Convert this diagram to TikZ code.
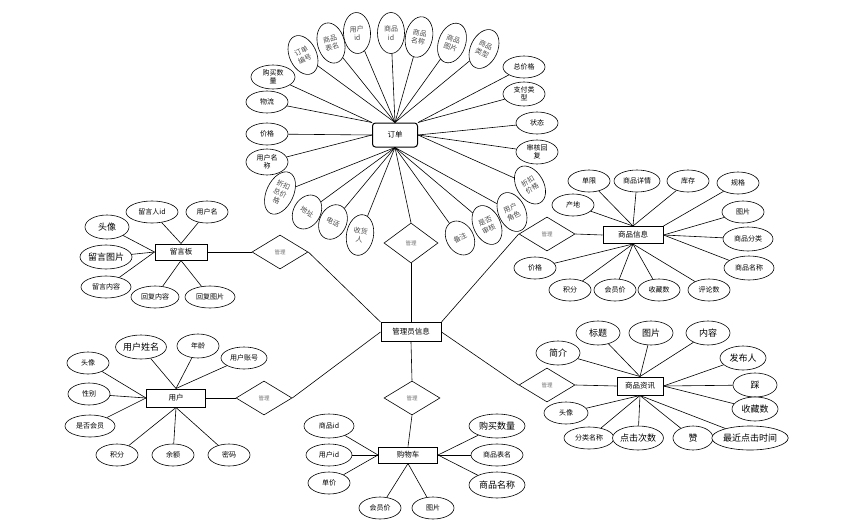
\documentclass[tikz,border=0pt]{standalone}
\usepackage{fontspec}
\usepackage{tikz}
\usetikzlibrary{shapes.geometric}
\newfontfamily\cjk{Noto Sans CJK SC}

\begin{document}
\begin{tikzpicture}[x=1pt, y=-1pt, line width=0.6pt,
    entity/.style={draw, line width=1pt, fill=white, inner sep=1pt, font=\cjk\fontsize{7.5}{9}\selectfont},
    attr/.style={draw, ellipse, fill=white, inner sep=0pt, align=center, minimum width=42pt, minimum height=22pt, font=\cjk\fontsize{7}{8}\selectfont},
    big attr/.style={attr, font=\cjk\fontsize{9}{10}\selectfont},
    tilt attr/.style={attr, minimum width=27pt, minimum height=41pt, text=black!70, rotate=#1, font=\cjk\fontsize{7}{8.5}\selectfont},
    rel/.style={draw, diamond, fill=white, inner sep=0pt, minimum width=56pt, minimum height=34pt, text=black!55, font=\cjk\fontsize{5.5}{6}\selectfont}]

    \path[fill=white, use as bounding box] (0,0) rectangle (849,525);

    % entities
    \node[entity, rounded corners=3pt, minimum width=45pt, minimum height=24pt] (dingdan) at (395,135) {订单};
    \node[entity, minimum width=60pt, minimum height=19pt] (guanli) at (411,332) {管理员信息};
    \node[entity, minimum width=52pt, minimum height=16pt] (liuyan) at (181,252) {留言板};
    \node[entity, minimum width=59pt, minimum height=18pt] (yonghu) at (176,398) {用户};
    \node[entity, minimum width=59pt, minimum height=16pt] (gouwuche) at (408,455) {购物车};
    \node[entity, minimum width=60pt, minimum height=17pt] (shangpin) at (633,235) {商品信息};
    \node[entity, minimum width=46pt, minimum height=18pt] (zixun) at (640,386) {商品资讯};

    % relations
    \node[rel, minimum width=54pt, minimum height=40pt] (gl1) at (411,243) {管理};
    \node[rel] (gl2) at (280,252) {管理};
    \node[rel] (gl3) at (547,234) {管理};
    \node[rel] (gl4) at (264,398) {管理};
    \node[rel] (gl5) at (412,398) {管理};
    \node[rel] (gl6) at (547,385) {管理};

    % dingdan attributes
    \node[tilt attr=25] (dd-bianhao) at (303,55) {订单\\编号};
    \node[tilt attr=15] (dd-biaoming) at (331,43) {商品\\表名};
    \node[tilt attr=3] (dd-yhid) at (357,33) {用户\\id};
    \node[tilt attr=0] (dd-spid) at (391,33) {商品\\id};
    \node[tilt attr=-12] (dd-mingcheng) at (419,37) {商品\\名称};
    \node[tilt attr=-20] (dd-tupian) at (452,43) {商品\\图片};
    \node[tilt attr=-25] (dd-leixing) at (484,49) {商品\\类型};
    \node[attr, minimum width=44pt, minimum height=24pt] (dd-shuliang) at (273,77) {购买数\\量};
    \node[attr] (dd-wuliu) at (267,102) {物流};
    \node[attr] (dd-jiage) at (267,134) {价格};
    \node[attr, minimum height=26pt] (dd-yhmc) at (267,162) {用户名\\称};
    \node[attr] (dd-zongjia) at (524,67) {总价格};
    \node[attr, minimum height=24pt] (dd-zhifu) at (524,94) {支付类\\型};
    \node[attr] (dd-zhuangtai) at (537,123) {状态};
    \node[attr, minimum height=24pt] (dd-huifu) at (537,152) {审核回\\复};
    \node[tilt attr=-25, minimum height=45pt] (dd-zkzj) at (280,193) {折扣\\总价\\格};
    \node[tilt attr=-30, minimum height=36pt] (dd-dizhi) at (307,212) {地址};
    \node[tilt attr=-25, minimum height=36pt] (dd-dianhua) at (333,222) {电话};
    \node[tilt attr=-10] (dd-shouhuo) at (360,235) {收货\\人};
    \node[tilt attr=30, minimum height=36pt] (dd-beizhu) at (460,238) {备注};
    \node[tilt attr=25] (dd-shenhe) at (487,225) {是否\\审核};
    \node[tilt attr=25] (dd-juese) at (512,212) {用户\\角色};
    \node[tilt attr=30] (dd-zkjg) at (530,185) {折扣\\价格};

    % liuyan attributes
    \node[attr, minimum width=52pt] (ly-lyrid) at (152,212) {留言人id};
    \node[attr] (ly-yhm) at (207,212) {用户名};
    \node[big attr, minimum width=44pt, minimum height=24pt] (ly-touxiang) at (107,227) {头像};
    \node[big attr, minimum width=52pt, minimum height=24pt] (ly-tupian) at (106,257) {留言图片};
    \node[attr, minimum width=50pt] (ly-neirong) at (106,287) {留言内容};
    \node[attr, minimum width=48pt] (ly-hfnr) at (155,297) {回复内容};
    \node[attr, minimum width=50pt] (ly-hftp) at (210,297) {回复图片};

    % yonghu attributes
    \node[big attr, minimum width=50pt, minimum height=24pt] (yh-xingming) at (141,347) {用户姓名};
    \node[attr, minimum height=24pt] (yh-nianling) at (198,346) {年龄};
    \node[attr, minimum width=46pt] (yh-zhanghao) at (244,358) {用户账号};
    \node[attr] (yh-touxiang) at (88,363) {头像};
    \node[attr] (yh-xingbie) at (89,394) {性别};
    \node[attr, minimum width=50pt] (yh-huiyuan) at (90,426) {是否会员};
    \node[attr] (yh-jifen) at (117,455) {积分};
    \node[attr] (yh-yue) at (173,455) {余额};
    \node[attr] (yh-mima) at (229,455) {密码};

    % gouwuche attributes
    \node[attr, minimum width=50pt, minimum height=24pt] (gwc-spid) at (329,426) {商品id};
    \node[attr, minimum width=46pt] (gwc-yhid) at (329,455) {用户id};
    \node[attr] (gwc-danjia) at (329,483) {单价};
    \node[attr] (gwc-huiyuanjia) at (380,508) {会员价};
    \node[attr] (gwc-tupian) at (433,508) {图片};
    \node[big attr, minimum width=56pt, minimum height=24pt] (gwc-shuliang) at (497,426) {购买数量};
    \node[attr, minimum width=52pt] (gwc-biaoming) at (497,455) {商品表名};
    \node[big attr, minimum width=56pt, minimum height=26pt] (gwc-mingcheng) at (497,485) {商品名称};

    % shangpin attributes
    \node[attr] (sp-danxian) at (589,181) {单限};
    \node[attr, minimum width=46pt] (sp-xiangqing) at (637,181) {商品详情};
    \node[attr] (sp-kucun) at (688,181) {库存};
    \node[attr] (sp-guige) at (738,183) {规格};
    \node[attr] (sp-chandi) at (573,205) {产地};
    \node[attr] (sp-tupian) at (743,212) {图片};
    \node[attr, minimum width=50pt, minimum height=24pt] (sp-fenlei) at (748,239) {商品分类};
    \node[attr, minimum width=50pt, minimum height=24pt] (sp-mingcheng) at (749,268) {商品名称};
    \node[attr] (sp-jiage) at (535,268) {价格};
    \node[attr] (sp-jifen) at (570,290) {积分};
    \node[attr] (sp-huiyuanjia) at (615,290) {会员价};
    \node[attr] (sp-shoucang) at (659,290) {收藏数};
    \node[attr] (sp-pinglun) at (709,290) {评论数};

    % zixun attributes
    \node[big attr, minimum width=44pt, minimum height=24pt] (zx-biaoti) at (598,333) {标题};
    \node[big attr, minimum width=44pt, minimum height=24pt] (zx-tupian) at (651,333) {图片};
    \node[big attr, minimum width=44pt, minimum height=24pt] (zx-neirong) at (708,333) {内容};
    \node[big attr, minimum width=44pt, minimum height=24pt] (zx-jianjie) at (558,353) {简介};
    \node[big attr, minimum width=46pt, minimum height=24pt] (zx-faburen) at (743,358) {发布人};
    \node[big attr, minimum width=44pt, minimum height=24pt] (zx-cai) at (755,385) {踩};
    \node[big attr, minimum width=46pt, minimum height=24pt] (zx-shoucang) at (755,409) {收藏数};
    \node[attr, minimum width=44pt] (zx-touxiang) at (566,413) {头像};
    \node[attr, minimum width=50pt] (zx-fenlei) at (589,438) {分类名称};
    \node[big attr, minimum width=50pt, minimum height=24pt] (zx-dianji) at (638,438) {点击次数};
    \node[big attr, minimum width=40pt, minimum height=24pt] (zx-zan) at (693,438) {赞};
    \node[big attr, minimum width=72pt, minimum height=24pt] (zx-zuijin) at (750,438) {最近点击时间};

    % relation lines
    \path
    (dingdan.south) edge (gl1.north)
    (gl1.south) edge (guanli.north)
    (liuyan.east) edge (gl2.west)
    (gl2.east) edge (guanli.north west)
    (guanli.north east) edge (gl3.west)
    (gl3.east) edge (shangpin.west)
    (yonghu.east) edge (gl4.west)
    (gl4.east) edge (guanli.west)
    (guanli.south) edge (gl5.north)
    (gl5.south) edge (gouwuche.north)
    (guanli.east) edge (gl6.west)
    (gl6.east) edge (zixun.west);

    % attribute lines
    \path
    (dd-bianhao) edge (dingdan.north)
    (dd-biaoming) edge (dingdan.north)
    (dd-yhid) edge (dingdan.north)
    (dd-spid) edge (dingdan.north)
    (dd-mingcheng) edge (dingdan.north)
    (dd-tupian) edge (dingdan.north)
    (dd-leixing) edge (dingdan.north)
    (dd-shuliang) edge (dingdan.north west)
    (dd-wuliu) edge (dingdan.north west)
    (dd-jiage) edge (dingdan.west)
    (dd-yhmc) edge (dingdan.west)
    (dd-zongjia) edge (dingdan.north east)
    (dd-zhifu) edge (dingdan.north east)
    (dd-zhuangtai) edge (dingdan.east)
    (dd-huifu) edge (dingdan.east)
    (dd-zkjg) edge (dingdan.east)
    (dd-zkzj) edge (dingdan.south)
    (dd-dizhi) edge (dingdan.south)
    (dd-dianhua) edge (dingdan.south)
    (dd-shouhuo) edge (dingdan.south)
    (dd-beizhu) edge (dingdan.south)
    (dd-shenhe) edge (dingdan.south)
    (dd-juese) edge (dingdan.south);

    \path
    (ly-lyrid) edge (liuyan.north)
    (ly-yhm) edge (liuyan.north)
    (ly-touxiang) edge (liuyan.west)
    (ly-tupian) edge (liuyan.west)
    (ly-neirong) edge (liuyan.west)
    (ly-hfnr) edge (liuyan.south)
    (ly-hftp) edge (liuyan.south);

    \path
    (yh-xingming) edge (yonghu.north)
    (yh-nianling) edge (yonghu.north)
    (yh-zhanghao) edge (yonghu.north)
    (yh-touxiang) edge (yonghu.west)
    (yh-xingbie) edge (yonghu.west)
    (yh-huiyuan) edge (yonghu.west)
    (yh-jifen) edge (yonghu.south)
    (yh-yue) edge (yonghu.south)
    (yh-mima) edge (yonghu.south);

    \path
    (gwc-spid) edge (gouwuche.west)
    (gwc-yhid) edge (gouwuche.west)
    (gwc-danjia) edge (gouwuche.west)
    (gwc-huiyuanjia) edge (gouwuche.south)
    (gwc-tupian) edge (gouwuche.south)
    (gwc-shuliang) edge (gouwuche.east)
    (gwc-biaoming) edge (gouwuche.east)
    (gwc-mingcheng) edge (gouwuche.east);

    \path
    (sp-danxian) edge (shangpin.north)
    (sp-xiangqing) edge (shangpin.north)
    (sp-kucun) edge (shangpin.north)
    (sp-chandi) edge (shangpin.north)
    (sp-guige) edge (shangpin.north east)
    (sp-tupian) edge (shangpin.east)
    (sp-fenlei) edge (shangpin.east)
    (sp-mingcheng) edge (shangpin.east)
    (sp-jiage) edge (shangpin.south)
    (sp-jifen) edge (shangpin.south)
    (sp-huiyuanjia) edge (shangpin.south)
    (sp-shoucang) edge (shangpin.south)
    (sp-pinglun) edge (shangpin.south);

    \path
    (zx-biaoti) edge (zixun.north)
    (zx-tupian) edge (zixun.north)
    (zx-neirong) edge (zixun.north)
    (zx-jianjie) edge (zixun.north)
    (zx-faburen) edge (zixun.east)
    (zx-cai) edge (zixun.east)
    (zx-shoucang) edge (zixun.east)
    (zx-touxiang) edge (zixun.south)
    (zx-fenlei) edge (zixun.south)
    (zx-dianji) edge (zixun.south)
    (zx-zan) edge (zixun.south)
    (zx-zuijin) edge (zixun.south);
\end{tikzpicture}
\end{document}
